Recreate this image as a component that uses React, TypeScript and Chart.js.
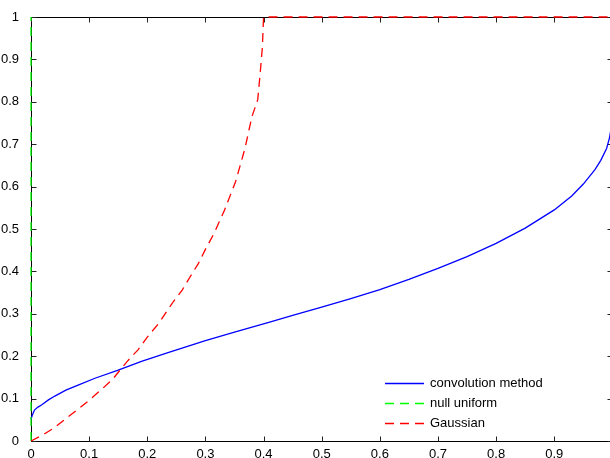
import React, { useEffect, useRef } from 'react';
import { Chart, registerables } from 'chart.js';

Chart.register(...registerables);

// convolution method (blue)
const convX = [0, 0.002, 0.006, 0.012, 0.018, 0.03, 0.041, 0.06, 0.081, 0.11, 0.15, 0.19, 0.233, 0.3, 0.35, 0.412, 0.45, 0.5, 0.55, 0.6, 0.65, 0.7, 0.75, 0.8, 0.85, 0.9, 0.93, 0.95, 0.97, 0.98, 0.99, 0.995, 1.0];
const convY = [0.051, 0.06, 0.073, 0.08, 0.085, 0.097, 0.106, 0.12, 0.132, 0.148, 0.167, 0.188, 0.207, 0.237, 0.257, 0.281, 0.296, 0.316, 0.336, 0.357, 0.381, 0.407, 0.435, 0.466, 0.502, 0.545, 0.578, 0.606, 0.64, 0.662, 0.69, 0.715, 0.755];

// null uniform (green)
const nullX = [0, 0];
const nullY = [0, 1];

// Gaussian (red)
const gaussX = [0, 0.02, 0.04, 0.06, 0.08, 0.1, 0.12, 0.14, 0.153, 0.167, 0.184, 0.2, 0.22, 0.245, 0.26, 0.274, 0.288, 0.3, 0.315, 0.333, 0.352, 0.368, 0.38, 0.39, 0.395, 0.398, 0.4, 1.0];
const gaussY = [0, 0.014, 0.031, 0.053, 0.074, 0.096, 0.12, 0.145, 0.167, 0.19, 0.215, 0.245, 0.278, 0.329, 0.356, 0.388, 0.419, 0.452, 0.49, 0.545, 0.612, 0.69, 0.765, 0.805, 0.88, 0.93, 1.0, 1.0];

const xTicks = [0, 0.1, 0.2, 0.3, 0.4, 0.5, 0.6, 0.7, 0.8, 0.9, 1];
const yTicks = [0, 0.1, 0.2, 0.3, 0.4, 0.5, 0.6, 0.7, 0.8, 0.9, 1];

const seriesLabels = ['convolution method', 'null uniform', 'Gaussian'];
const seriesColors = ['#0000ff', '#00ff00', '#ff0000'];
const DASH = [9, 6];

const pts = (xs: number[], ys: number[]) => xs.map((x, i) => ({ x, y: ys[i] }));
const fmt = (v: number) => String(Math.round(v * 10) / 10);

const FONT = '"Liberation Sans", Arial, Helvetica, sans-serif';

const axesPlugin = {
  id: 'matlabAxes',
  beforeDatasetsDraw(chart: any) {
    const { ctx, chartArea: a, scales } = chart;
    const L = Math.round(a.left) + 0.5;
    const R = Math.round(a.right) + 0.5;
    const T = Math.round(a.top) + 0.5;
    const B = Math.round(a.bottom) + 0.5;
    ctx.save();
    ctx.strokeStyle = '#000';
    ctx.lineWidth = 1;
    ctx.strokeRect(L, T, R - L, B - T);
    ctx.strokeStyle = '#222';
    ctx.beginPath();
    xTicks.forEach((v) => {
      const p = Math.round(scales.x.getPixelForValue(v)) + 0.5;
      ctx.moveTo(p, B); ctx.lineTo(p, B - 5);
      ctx.moveTo(p, T); ctx.lineTo(p, T + 5);
    });
    yTicks.forEach((v) => {
      const p = Math.round(scales.y.getPixelForValue(v)) + 0.5;
      ctx.moveTo(L, p); ctx.lineTo(L + 5, p);
      ctx.moveTo(R, p); ctx.lineTo(R - 5, p);
    });
    ctx.stroke();
    ctx.restore();
  },
};

const legendPlugin = {
  id: 'matlabLegend',
  afterDraw(chart: any) {
    const { ctx } = chart;
    const x0 = 385, x1 = 424, tx = 430;
    const rows = [382.5, 403, 422.5];
    ctx.save();
    ctx.font = `13px ${FONT}`;
    ctx.textBaseline = 'middle';
    ctx.textAlign = 'left';
    seriesLabels.forEach((lab, i) => {
      const y = Math.round(rows[i]) + 0.5;
      ctx.strokeStyle = seriesColors[i];
      ctx.lineWidth = 1.3;
      ctx.setLineDash(i === 0 ? [] : DASH);
      ctx.beginPath();
      ctx.moveTo(x0, y); ctx.lineTo(x1, y);
      ctx.stroke();
      ctx.setLineDash([]);
      ctx.fillStyle = '#000';
      ctx.fillText(lab, tx, rows[i] + 0.5);
    });
    ctx.restore();
  },
};

export default function App() {
  const ref = useRef<HTMLCanvasElement | null>(null);
  useEffect(() => {
    if (!ref.current) return;
    const chart = new Chart(ref.current, {
      type: 'line',
      data: {
        datasets: [
          { label: seriesLabels[0], data: pts(convX, convY), borderColor: seriesColors[0], borderWidth: 1.3, pointRadius: 0, tension: 0, clip: false as any, order: 3 },
          { label: seriesLabels[1], data: pts(nullX, nullY), borderColor: seriesColors[1], borderWidth: 1.3, borderDash: DASH, pointRadius: 0, tension: 0, clip: false as any, order: 2 },
          { label: seriesLabels[2], data: pts(gaussX, gaussY), borderColor: seriesColors[2], borderWidth: 1.3, borderDash: DASH, pointRadius: 0, tension: 0, clip: false as any, order: 1 },
        ],
      },
      options: {
        animation: false,
        responsive: false,
        devicePixelRatio: 1,
        layout: { padding: { top: 17, right: 7.6, left: 0, bottom: 0 } },
        plugins: { legend: { display: false }, tooltip: { enabled: false } },
        elements: { line: { fill: false } },
        scales: {
          x: {
            type: 'linear', min: 0, max: 1,
            grid: { display: false }, border: { display: false },
            ticks: {
              stepSize: 0.1, padding: -2, color: '#000', maxRotation: 0, autoSkip: false,
              font: { family: FONT, size: 13 },
              callback: (v: any) => (Number(v) >= 0.999 ? '' : fmt(Number(v))),
            },
            afterFit: (s: any) => { s.height = 17; },
          },
          y: {
            type: 'linear', min: 0, max: 1,
            grid: { display: false }, border: { display: false },
            ticks: {
              stepSize: 0.1, padding: 4, color: '#000', autoSkip: false,
              font: { family: FONT, size: 13 },
              callback: (v: any) => fmt(Number(v)),
            },
            afterFit: (s: any) => { s.width = 31; },
          },
        },
      },
      plugins: [axesPlugin, legendPlugin],
    } as any);
    return () => chart.destroy();
  }, []);
  return (
    <div style={{ position: 'fixed', left: 0, top: 0, width: 610, height: 458, overflow: 'hidden', background: '#fff' }}>
      <canvas ref={ref} width={620} height={458} style={{ display: 'block', width: 620, height: 458 }} />
    </div>
  );
}
